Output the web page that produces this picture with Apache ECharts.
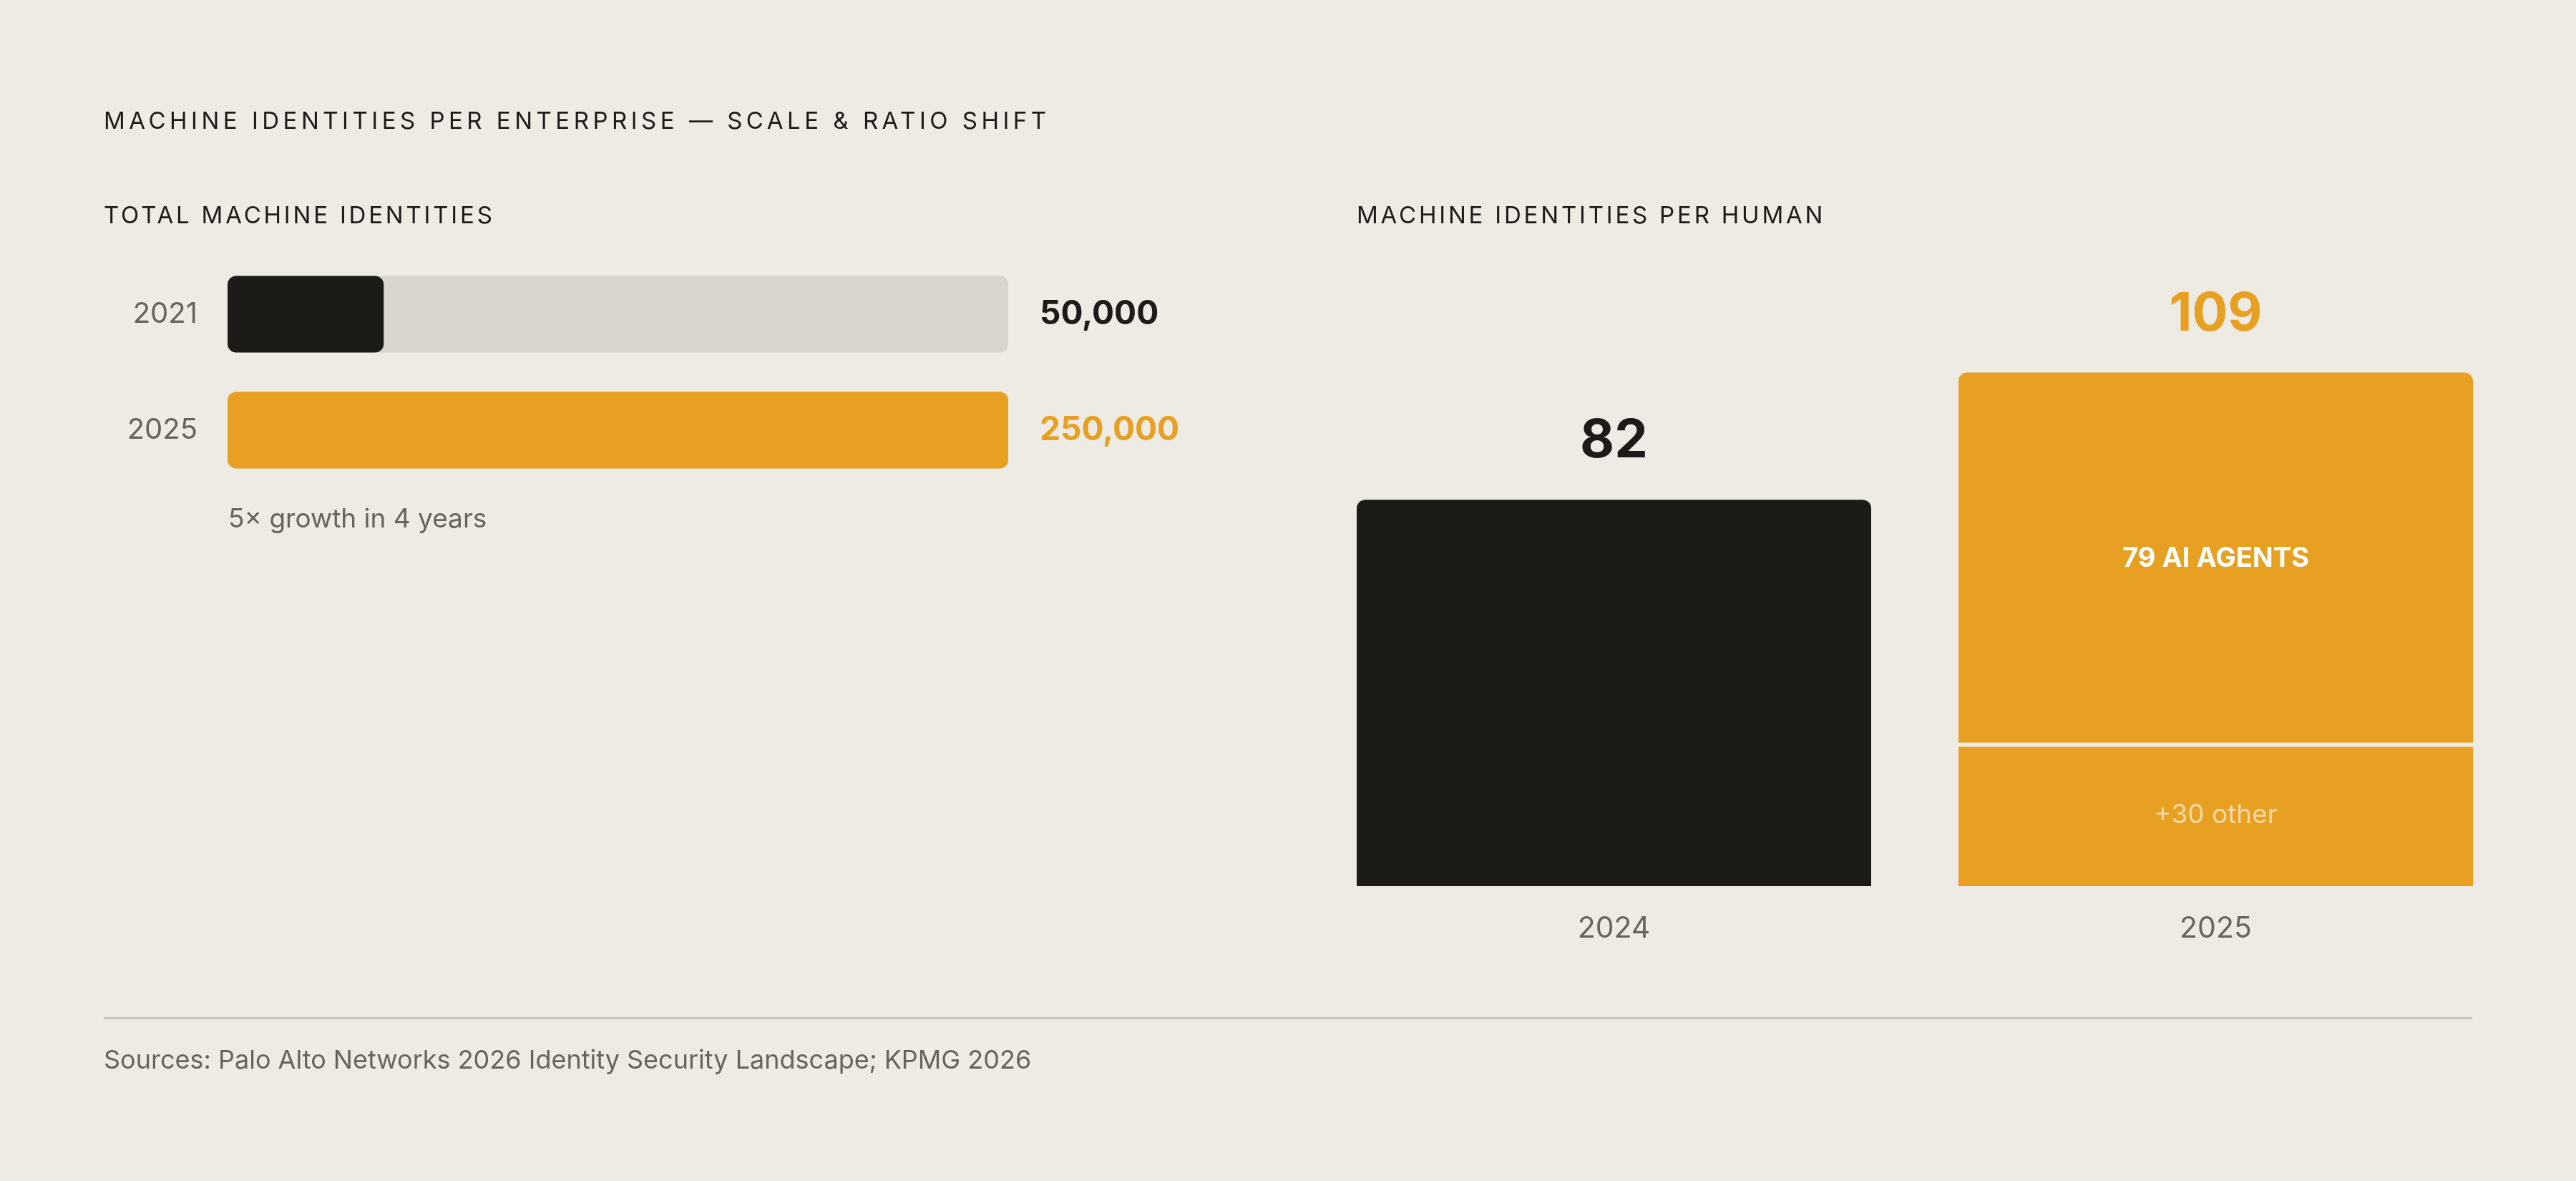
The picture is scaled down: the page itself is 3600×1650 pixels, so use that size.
<!DOCTYPE html>
<html lang="en">
<head>
    <meta charset="UTF-8">
    <title>Machine identities per enterprise</title>
    <style>
        html, body { margin: 0; padding: 0; background: #eeebe5; }
        #wrap { position: relative; width: 3600px; height: 1650px; }
        #main { position: absolute; left: 0; top: 0; width: 3600px; height: 1650px; }
        .head {
            position: absolute;
            font-family: Inter, "Noto Sans", sans-serif;
            font-size: 33px;
            line-height: 40px;
            color: #1c1b17;
            letter-spacing: 5.5px;
            white-space: nowrap;
        }
        .sub { letter-spacing: 3.8px; }
    </style>
</head>
<body>
<div id="wrap">
    <div id="main"></div>
    <!-- spaced headings: canvas text has no letter-spacing -->
    <div class="head" style="left:145px; top:148px;">MACHINE IDENTITIES PER ENTERPRISE — SCALE &amp; RATIO SHIFT</div>
    <div class="head sub" style="left:145px; top:280px;">TOTAL MACHINE IDENTITIES</div>
    <div class="head sub" style="left:1896px; top:280px;">MACHINE IDENTITIES PER HUMAN</div>
</div>
<script src="https://cdn.jsdelivr.net/npm/echarts@6/dist/echarts.min.js"></script>
<script>
    // 数据
    var totalYears = ['2021', '2025'];
    var totalValues = [50000, 250000];
    var totalMax = 250000;

    var ratioYears = ['2024', '2025'];
    var ratioBase = [82, 30];        // 2024 total, 2025 "other"
    var ratioAgents = ['-', 79];     // AI agents (2025 only)
    var baseLabels = ['', '+30 other'];
    var agentLabels = ['', '79 AI AGENTS'];

    var BG = '#eeebe5',
        DARK = '#1c1b17',
        ORANGE = '#e7a021',
        TRACK = '#d9d6cf',
        GREY = '#67635d';

    var barColors = [DARK, ORANGE];

    var totalLabels = totalValues.map(function (v) {
        return v.toLocaleString('en-US');
    });
    var ratioTotals = ratioBase.map(function (v, i) {
        return v + (ratioAgents[i] === '-' ? 0 : ratioAgents[i]);
    });

    var myChart = echarts.init(document.getElementById('main'));

    var option = {
        backgroundColor: BG,
        animation: false,
        textStyle: {fontFamily: 'Inter'},
        grid: [
            {left: 318, top: 358, width: 1091, height: 324},
            {left: 1835, top: 448, width: 1682, height: 790}
        ],
        xAxis: [{
            type: 'value',
            gridIndex: 0,
            min: 0,
            max: totalMax,
            show: false
        }, {
            type: 'category',
            gridIndex: 1,
            data: ratioYears,
            axisLine: {show: false},
            axisTick: {show: false},
            axisLabel: {margin: 39, fontSize: 41, color: GREY}
        }],
        yAxis: [{
            type: 'category',
            gridIndex: 0,
            inverse: true,
            data: totalYears,
            axisLine: {show: false},
            axisTick: {show: false},
            axisLabel: {margin: 42, fontSize: 40, color: GREY}
        }, {
            type: 'category',
            gridIndex: 0,
            position: 'right',
            inverse: true,
            data: totalLabels,
            axisLine: {show: false},
            axisTick: {show: false},
            axisLabel: {
                margin: 44,
                align: 'left',
                formatter: function (value, index) {
                    return '{c' + index + '|' + value + '}';
                },
                rich: {
                    c0: {color: DARK, fontSize: 46, fontWeight: 700},
                    c1: {color: ORANGE, fontSize: 46, fontWeight: 700}
                }
            }
        }, {
            type: 'value',
            gridIndex: 1,
            min: 0,
            max: 120,
            show: false
        }],
        series: [{
            name: 'total',
            type: 'bar',
            xAxisIndex: 0,
            yAxisIndex: 0,
            barWidth: 107,
            showBackground: true,
            backgroundStyle: {color: TRACK, borderRadius: 12},
            data: totalValues.map(function (v, i) {
                return {value: v, itemStyle: {color: barColors[i], borderRadius: 12}};
            })
        }, {
            name: 'base',
            type: 'bar',
            xAxisIndex: 1,
            yAxisIndex: 2,
            stack: 'ratio',
            barWidth: 719,
            data: ratioBase.map(function (v, i) {
                return {
                    value: v,
                    itemStyle: {color: barColors[i], borderRadius: i === 0 ? [12, 12, 0, 0] : 0},
                    label: {
                        show: baseLabels[i] !== '',
                        position: 'inside',
                        formatter: baseLabels[i],
                        fontSize: 37,
                        color: 'rgba(255,255,255,0.6)'
                    }
                };
            })
        }, {
            // thin separator between the two 2025 segments (zero height, stroked)
            name: 'gap',
            type: 'bar',
            xAxisIndex: 1,
            yAxisIndex: 2,
            stack: 'ratio',
            z: 5,
            silent: true,
            data: ratioAgents.map(function (v) {
                return v === '-' ? '-' : 0;
            }),
            itemStyle: {color: BG, borderColor: BG, borderWidth: 6}
        }, {
            name: 'agents',
            type: 'bar',
            xAxisIndex: 1,
            yAxisIndex: 2,
            stack: 'ratio',
            data: ratioAgents.map(function (v, i) {
                return {
                    value: v,
                    itemStyle: {color: ORANGE, borderRadius: [12, 12, 0, 0]},
                    label: {
                        show: agentLabels[i] !== '',
                        position: 'inside',
                        formatter: agentLabels[i],
                        fontSize: 38,
                        fontWeight: 700,
                        color: '#ffffff'
                    }
                };
            })
        }, {
            // total value above each column
            name: 'sum',
            type: 'bar',
            xAxisIndex: 1,
            yAxisIndex: 2,
            stack: 'ratio',
            data: ratioTotals.map(function (v, i) {
                return {
                    value: 0,
                    itemStyle: {color: 'rgba(0,0,0,0)'},
                    label: {
                        show: true,
                        position: 'top',
                        distance: 44,
                        formatter: String(v),
                        fontSize: 74,
                        lineHeight: 74,
                        fontWeight: 700,
                        color: barColors[i]
                    }
                };
            })
        }],
        graphic: [{
            type: 'text',
            left: 319,
            top: 707,
            style: {text: '5× growth in 4 years', fontSize: 37, fill: GREY, fontFamily: 'Inter'}
        }, {
            type: 'rect',
            left: 145,
            top: 1421,
            shape: {width: 3310, height: 3},
            style: {fill: '#c8c5be'}
        }, {
            type: 'text',
            left: 145,
            top: 1464,
            style: {
                text: 'Sources: Palo Alto Networks 2026 Identity Security Landscape; KPMG 2026',
                fontSize: 36,
                fill: GREY,
                fontFamily: 'Inter'
            }
        }]
    };

    myChart.setOption(option);
</script>
</body>
</html>
